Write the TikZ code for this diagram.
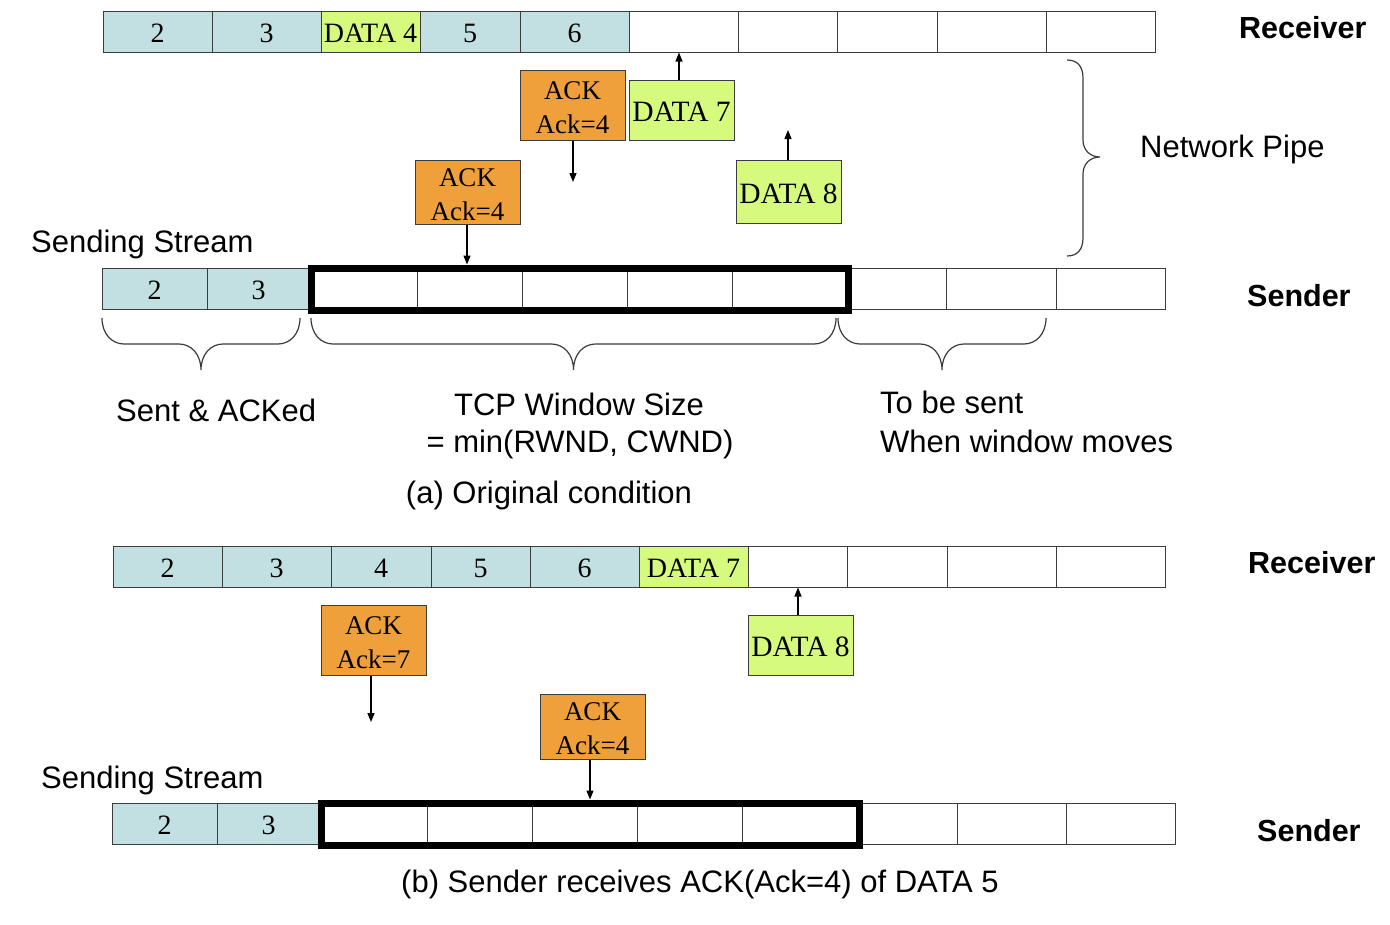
\documentclass[tikz,border=0pt]{standalone}
\usepackage{fontspec}
\setmainfont{Liberation Serif}
\setsansfont{Liberation Sans}
\usetikzlibrary{arrows.meta}
\definecolor{cellblue}{RGB}{194,224,226}
\definecolor{datagreen}{RGB}{214,250,125}
\definecolor{ackorange}{RGB}{240,160,58}
\definecolor{lineg}{RGB}{60,60,60}
\newcommand{\ubrace}[4]{% x1, x2, ytop, name of tip
  \draw[bracestyle] (#1,#3) .. controls (#1,{#3+16}) and ({#1+10},{#3+26}) .. ({#1+22},{#3+26})
    -- ({(#1+#2)/2-22},{#3+26}) .. controls ({(#1+#2)/2-10},{#3+26}) and ({(#1+#2)/2},{#3+36}) .. ({(#1+#2)/2},{#3+52})
    .. controls ({(#1+#2)/2},{#3+36}) and ({(#1+#2)/2+10},{#3+26}) .. ({(#1+#2)/2+22},{#3+26})
    -- ({#2-22},{#3+26}) .. controls ({#2-10},{#3+26}) and (#2,{#3+16}) .. (#2,#3);
  \coordinate (#4) at ({(#1+#2)/2},{#3+52});}
\begin{document}
\begin{tikzpicture}[x=1pt,y=-1pt,
  cell/.style={draw=lineg, line width=1pt, inner sep=0pt, minimum height=41pt,
    minimum width=#1, font=\fontsize{28}{34}\selectfont, text height=23pt, text depth=1pt},
  bcell/.style={cell=#1, fill=cellblue},
  gcell/.style={cell=#1, fill=datagreen},
  wcell/.style={cell=#1, fill=white},
  window/.style={draw=black, line width=7pt, inner sep=0pt, minimum width=537pt, minimum height=42pt},
  pkt/.style={draw=lineg, line width=1pt, inner sep=0pt, minimum width=105pt,
    font=\fontsize{27}{34}\selectfont, align=center, text height=22pt, text depth=0pt},
  ackbox/.style={pkt, fill=ackorange, text height=56pt},
  databox/.style={pkt, fill=datagreen, font=\fontsize{29.5}{34}\selectfont, text height=23pt},
  arr/.style={draw=black, line width=1.3pt, -{Triangle[length=9pt,width=7pt]}},
  lbl/.style={font=\sffamily\fontsize{31}{38}\selectfont, inner sep=0pt},
  blbl/.style={font=\sffamily\bfseries\fontsize{30.5}{36}\selectfont, inner sep=0pt},
  bracestyle/.style={draw=lineg, line width=1.2pt}]
\useasboundingbox (0,0) rectangle (1390,924);
\fill[white] (0,0) rectangle (1390,924);

% ---------- (a) receiver
\node[bcell=109pt] (ra1) at (157.5,31.5) {2};
\node[bcell=109pt] (ra2) at (266.5,31.5) {3};
\node[gcell=99pt]  (ra3) at (370.5,31.5) {DATA 4};
\node[bcell=100pt] (ra4) at (470,31.5) {5};
\node[bcell=109pt] (ra5) at (574.5,31.5) {6};
\node[wcell=109pt] (ra6) at (683.5,31.5) {};
\node[wcell=99pt]  (ra7) at (787.5,31.5) {};
\node[wcell=100pt] (ra8) at (887,31.5) {};
\node[wcell=109pt] (ra9) at (991.5,31.5) {};
\node[wcell=109pt] (ra10) at (1100.5,31.5) {};
\node[blbl, anchor=west] (recva) at (1239,28) {Receiver};

% packets (a)
\node[ackbox, minimum height=70pt] (acka1) at (572.5,105) {ACK\\Ack=4};
\node[databox, minimum height=60pt] (data7a) at (681.5,110) {DATA 7};
\node[ackbox, minimum height=64pt] (acka2) at (467.5,192) {ACK\\Ack=4};
\node[databox, minimum height=63pt] (data8a) at (788.5,191.5) {DATA 8};
\coordinate (acka1end) at (573,182);
\coordinate (data8aend) at (788,130);

% network pipe
\draw[bracestyle] (1067,60) .. controls (1077,60) and (1083,66) .. (1083,78)
  -- (1083,140) .. controls (1083,150) and (1090,157) .. (1100,157)
  .. controls (1090,157) and (1083,164) .. (1083,174)
  -- (1083,238) .. controls (1083,250) and (1077,256) .. (1067,256);
\node[lbl, anchor=west] (pipe) at (1140,149) {Network Pipe};

% ---------- (a) sender
\node[lbl, anchor=west] (ssa) at (31,244) {Sending Stream};
\node[bcell=105pt] (sa1) at (154.5,288.5) {2};
\node[bcell=103pt] (sa2) at (258.5,288.5) {3};
\node[wcell=107pt] (sa3) at (363.5,288.5) {};
\node[wcell=105pt] (sa4) at (469.5,288.5) {};
\node[wcell=105pt] (sa5) at (574.5,288.5) {};
\node[wcell=105pt] (sa6) at (679.5,288.5) {};
\node[wcell=116pt] (sa7) at (790,288.5) {};
\node[wcell=98pt]  (sa8) at (897,288.5) {};
\node[wcell=110pt] (sa9) at (1001,288.5) {};
\node[wcell=109pt] (sa10) at (1110.5,288.5) {};
\node[window] (wina) at (579.5,289) {};
\node[blbl, anchor=west] (senda) at (1247,296) {Sender};

\draw[arr] (data7a.north -| 679,0) -- (679,0 |- ra6.south);
\draw[arr] (acka1.south -| acka1end) -- (acka1end);
\draw[arr] (acka2.south -| 467,0) -- (467,0 |- wina.north);
\draw[arr] (data8a.north -| data8aend) -- (data8aend);

% braces (a)
\ubrace{102}{300}{318}{bt1}
\ubrace{311}{836}{318}{bt2}
\ubrace{838}{1046}{318}{bt3}
\node[lbl, anchor=west] (sentack) at (116,410) {Sent \& ACKed};
\node[lbl] (tcpw) at (579,404) {TCP Window Size};
\node[lbl] (tcpmin) at (580,444) {= min(RWND, CWND)};
\node[lbl, anchor=west] (tobe) at (880,402) {To be sent};
\node[lbl, anchor=west] (whenw) at (880,441) {When window moves};
\node[lbl] (capa) at (549,495) {(a) Original condition};

% ---------- (b) receiver
\node[bcell=109pt] (rb1) at (167.5,566.5) {2};
\node[bcell=109pt] (rb2) at (276.5,566.5) {3};
\node[bcell=100pt] (rb3) at (381,566.5) {4};
\node[bcell=99pt]  (rb4) at (480.5,566.5) {5};
\node[bcell=109pt] (rb5) at (584.5,566.5) {6};
\node[gcell=109pt] (rb6) at (693.5,566.5) {DATA 7};
\node[wcell=99pt]  (rb7) at (797.5,566.5) {};
\node[wcell=100pt] (rb8) at (897,566.5) {};
\node[wcell=109pt] (rb9) at (1001.5,566.5) {};
\node[wcell=109pt] (rb10) at (1110.5,566.5) {};
\node[blbl, anchor=west] (recvb) at (1248,563) {Receiver};

\node[ackbox, minimum height=70pt] (ackb1) at (373.5,640) {ACK\\Ack=7};
\node[databox, minimum height=60pt] (data8b) at (800.5,645) {DATA 8};
\node[ackbox, minimum height=65pt] (ackb2) at (592.5,726.5) {ACK\\Ack=4};
\coordinate (ackb1end) at (371,722);

% ---------- (b) sender
\node[lbl, anchor=west] (ssb) at (41,780) {Sending Stream};
\node[bcell=105pt] (sb1) at (164.5,823.5) {2};
\node[bcell=103pt] (sb2) at (268.5,823.5) {3};
\node[wcell=107pt] (sb3) at (373.5,823.5) {};
\node[wcell=105pt] (sb4) at (479.5,823.5) {};
\node[wcell=105pt] (sb5) at (584.5,823.5) {};
\node[wcell=105pt] (sb6) at (689.5,823.5) {};
\node[wcell=117pt] (sb7) at (800.5,823.5) {};
\node[wcell=98pt]  (sb8) at (908,823.5) {};
\node[wcell=109pt] (sb9) at (1011.5,823.5) {};
\node[wcell=109pt] (sb10) at (1120.5,823.5) {};
\node[window, minimum width=538pt] (winb) at (590,824) {};
\node[blbl, anchor=west] (sendb) at (1257,831) {Sender};

\draw[arr] (ackb1.south -| ackb1end) -- (ackb1end);
\draw[arr] (data8b.north -| 798,0) -- (798,0 |- rb7.south);
\draw[arr] (ackb2.south -| 590,0) -- (590,0 |- winb.north);

\node[lbl] (capb) at (700,884) {(b) Sender receives ACK(Ack=4) of DATA 5};
\end{tikzpicture}
\end{document}
